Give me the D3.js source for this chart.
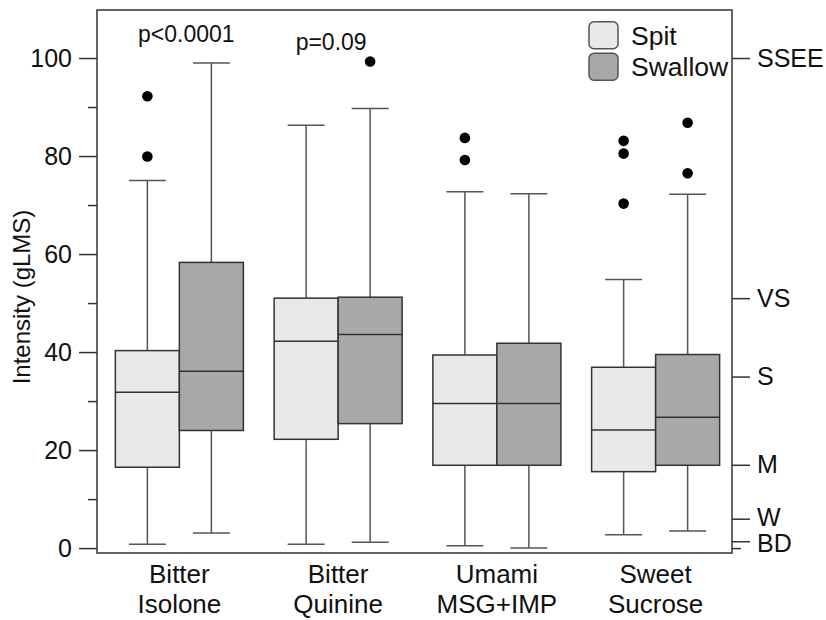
<!DOCTYPE html>
<html>
<head>
<meta charset="utf-8">
<script src="https://cdn.jsdelivr.net/npm/d3@7"></script>
<style>
  body { margin: 0; background: #fff; }
  svg { display: block; font-family: "Liberation Sans", Arial, sans-serif; }
</style>
</head>
<body>
<svg id="chart" width="826" height="620"></svg>
<script>
// Box stats: [lower whisker, Q1, median, Q3, upper whisker]
const categories = [["Bitter", "Isolone"], ["Bitter", "Quinine"], ["Umami", "MSG+IMP"], ["Sweet", "Sucrose"]];
const series = ["Spit", "Swallow"];
const spitStats = [
  [0.8, 16.5, 31.8, 40.3, 75.0],
  [0.8, 22.2, 42.2, 51.0, 86.3],
  [0.5, 16.9, 29.5, 39.4, 72.7],
  [2.7, 15.6, 24.1, 36.9, 54.8]
];
const swallowStats = [
  [3.1, 24.0, 36.1, 58.3, 99.0],
  [1.2, 25.4, 43.6, 51.2, 89.7],
  [0.0, 16.9, 29.5, 41.8, 72.3],
  [3.5, 16.9, 26.7, 39.5, 72.2]
];
const spitOutliers = [[92.2, 79.9], [], [83.7, 79.2], [83.1, 80.5, 70.3]];
const swallowOutliers = [[], [99.3], [], [86.8, 76.5]];
const pValues = ["p<0.0001", "p=0.09", "", ""];
const leftTicks = [0, 20, 40, 60, 80, 100];
const leftMinor = [10, 30, 50, 70, 90];
const glmsTicks = [1.4, 6, 17, 35, 51, 100];
const glmsLabels = ["BD", "W", "M", "S", "VS", "SSEE"];

const fills = { Spit: "#e9e9e9", Swallow: "#a8a8a8" };

const svg = d3.select("#chart");
const frame = { left: 97, right: 732, top: 10, bottom: 553 };

const x = d3.scaleBand().domain(d3.range(categories.length)).range([100, 735]);
const boxW = 64;
const xs = d3.scaleBand().domain(series)
    .range([x.bandwidth() / 2 - boxW, x.bandwidth() / 2 + boxW]);
const y = d3.scaleLinear().domain([-1, 109.8]).range([frame.bottom, frame.top]);

// frame
svg.append("rect")
    .attr("x", frame.left).attr("y", frame.top)
    .attr("width", frame.right - frame.left).attr("height", frame.bottom - frame.top)
    .attr("fill", "none").attr("stroke", "#333").attr("stroke-width", 1.5);

// left axis
const gl = svg.append("g").attr("transform", `translate(${frame.left},0)`);
gl.call(d3.axisLeft(y).tickValues(leftTicks).tickSize(18).tickPadding(7))
  .call(g => g.select(".domain").remove())
  .call(g => g.selectAll("line").attr("stroke", "#333").attr("stroke-width", 1.5))
  .call(g => g.selectAll("text").attr("font-size", 25).attr("fill", "#111").attr("font-family", null));
gl.append("g")
  .call(d3.axisLeft(y).tickValues(leftMinor).tickSize(9).tickFormat(""))
  .call(g => g.select(".domain").remove())
  .call(g => g.selectAll("line").attr("stroke", "#333").attr("stroke-width", 1.5));

// right gLMS axis
const gr = svg.append("g").attr("transform", `translate(${frame.right},0)`);
gr.call(d3.axisRight(y).tickValues(glmsTicks).tickSize(18).tickPadding(7)
    .tickFormat((d, i) => glmsLabels[i]))
  .call(g => g.select(".domain").remove())
  .call(g => g.selectAll("line").attr("stroke", "#333").attr("stroke-width", 1.5))
  .call(g => g.selectAll("text").attr("font-size", 25).attr("fill", "#111").attr("font-family", null))
  // W and BD sit almost on top of each other: nudge them apart a little
  .call(g => g.selectAll("text").filter(d => d === 6).attr("dy", "0.26em"))
  .call(g => g.selectAll("text").filter(d => d === 1.4).attr("dy", "0.42em"));
gr.append("g")
  .call(d3.axisRight(y).tickValues([0]).tickSize(9).tickFormat(""))
  .call(g => g.select(".domain").remove())
  .call(g => g.selectAll("line").attr("stroke", "#333").attr("stroke-width", 1.5));

// y title
svg.append("text")
    .attr("transform", `translate(30,297) rotate(-90)`)
    .attr("text-anchor", "middle")
    .attr("font-size", 24).attr("fill", "#111")
    .text("Intensity (gLMS)");

// x labels
const xl = svg.append("g").selectAll("text")
  .data(categories)
  .join("text")
    .attr("text-anchor", "middle")
    .attr("font-size", 26).attr("fill", "#111")
    .attr("x", (d, i) => x(i) + x.bandwidth() / 2);
xl.append("tspan").attr("y", 583).text(d => d[0]);
xl.append("tspan").attr("y", 613).attr("x", (d, i) => x(i) + x.bandwidth() / 2).text(d => d[1]);

// boxes
const boxes = [];
categories.forEach((c, i) => {
  boxes.push({ i, s: "Spit", st: spitStats[i], out: spitOutliers[i] });
  boxes.push({ i, s: "Swallow", st: swallowStats[i], out: swallowOutliers[i] });
});
const cx = d => x(d.i) + xs(d.s) + xs.bandwidth() / 2;
const capW = 37;

const bg = svg.append("g").selectAll("g").data(boxes).join("g");
bg.append("line")
    .attr("x1", cx).attr("x2", cx)
    .attr("y1", d => y(d.st[0])).attr("y2", d => y(d.st[4]))
    .attr("stroke", "#555").attr("stroke-width", 1.5);
bg.selectAll(".cap").data(d => [d.st[0], d.st[4]].map(v => ({ v, c: cx(d) })))
  .join("line")
    .attr("x1", d => d.c - capW / 2).attr("x2", d => d.c + capW / 2)
    .attr("y1", d => y(d.v)).attr("y2", d => y(d.v))
    .attr("stroke", "#555").attr("stroke-width", 1.5);
bg.append("rect")
    .attr("x", d => x(d.i) + xs(d.s)).attr("width", xs.bandwidth())
    .attr("y", d => y(d.st[3])).attr("height", d => y(d.st[1]) - y(d.st[3]))
    .attr("fill", d => fills[d.s]).attr("stroke", "#333").attr("stroke-width", 1.5);
bg.append("line")
    .attr("x1", d => x(d.i) + xs(d.s)).attr("x2", d => x(d.i) + xs(d.s) + xs.bandwidth())
    .attr("y1", d => y(d.st[2])).attr("y2", d => y(d.st[2]))
    .attr("stroke", "#333").attr("stroke-width", 1.5);
bg.selectAll("circle").data(d => d.out.map(v => ({ v, c: cx(d) })))
  .join("circle")
    .attr("cx", d => d.c).attr("cy", d => y(d.v)).attr("r", 5.3)
    .attr("fill", "#000");

// p values
const pOffset = [7, -7, 0, 0];
const pY = [103.3, 101.6, 0, 0];
svg.append("g").selectAll("text")
  .data(pValues.map((p, i) => ({ p, i })).filter(d => d.p))
  .join("text")
    .attr("x", d => x(d.i) + x.bandwidth() / 2 + pOffset[d.i])
    .attr("y", d => y(pY[d.i]))
    .attr("text-anchor", "middle")
    .attr("font-size", 23).attr("fill", "#111")
    .text(d => d.p);

// legend
const lg = svg.append("g").selectAll("g").data(series).join("g")
    .attr("transform", (d, i) => `translate(589,${21.7 + i * 31.6})`);
lg.append("rect")
    .attr("width", 29).attr("height", 27).attr("rx", 5)
    .attr("fill", d => fills[d]).attr("stroke", "#555").attr("stroke-width", 1.5);
lg.append("text")
    .attr("x", 42).attr("y", 22.8)
    .attr("font-size", 26.5).attr("fill", "#111")
    .text(d => d);
</script>
</body>
</html>
